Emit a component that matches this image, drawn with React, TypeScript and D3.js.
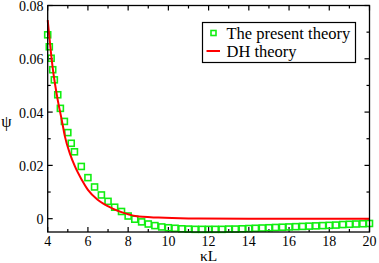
import { useMemo } from "react";
import * as d3 from "d3";

// The present theory (squares)
const presentX = [
  4.0, 4.08, 4.17, 4.25, 4.33, 4.5, 4.63, 4.83, 5.0, 5.17, 5.33, 5.67, 6.0, 6.33, 6.67, 7.0, 7.33, 7.67, 8.0,
  8.33, 8.67, 9.0, 9.33, 9.67, 10.0, 10.33, 10.67, 11.0, 11.33, 11.67, 12.0, 12.33, 12.67, 13.0, 13.33, 13.67,
  14.0, 14.33, 14.67, 15.0, 15.33, 15.67, 16.0, 16.33, 16.67, 17.0, 17.33, 17.67, 18.0, 18.33, 18.67, 19.0,
  19.33, 19.67, 20.0,
];
const presentPsi = [
  0.0690, 0.0645, 0.0602, 0.0559, 0.0521, 0.0465, 0.0414, 0.0365, 0.0323, 0.0283, 0.0251, 0.0196, 0.0154,
  0.0119, 0.0089, 0.0065, 0.0043, 0.0027, 0.0010, -0.0002, -0.0012, -0.0020, -0.0026, -0.0031, -0.0034,
  -0.0036, -0.0038, -0.0039, -0.0040, -0.0040, -0.0040, -0.0040, -0.0040, -0.0039, -0.0039, -0.0038,
  -0.0037, -0.0036, -0.0035, -0.0034, -0.0033, -0.0032, -0.0031, -0.0030, -0.0029, -0.0028, -0.0027,
  -0.0026, -0.0025, -0.0024, -0.0022, -0.0021, -0.0020, -0.0019, -0.0018,
];

// DH theory (line)
const dhX = [4.0, 4.25, 4.5, 4.7, 4.86, 5.1, 5.36, 5.7, 6.0, 6.5, 7.2, 7.85, 8.35, 9.5, 11.0, 14.0, 17.0, 20.0];
const dhPsi = [
  0.0745, 0.0565, 0.0445, 0.037, 0.0307, 0.0245, 0.0195, 0.0145, 0.0108, 0.007, 0.0039, 0.002, 0.001, 0.0004,
  0.0001, 0.0, 0.0, 0.0,
];

const xTicks = [4, 6, 8, 10, 12, 14, 16, 18, 20];
const yTicks = [0, 0.02, 0.04, 0.06, 0.08];
const xMinor = [5, 7, 9, 11, 13, 15, 17, 19];
const yMinor = [0.01, 0.03, 0.05, 0.07];

const legendLabels = ["The present theory", "DH theory"];

const FONT = "'Liberation Serif', 'Times New Roman', serif";
const GREEN = "#11ee11";
const RED = "#ff0000";

export default function App() {
  const W = 379;
  const H = 263;
  const left = 47.7;
  const right = 369.5;
  const top = 5.5;
  const bottom = 232;

  const x = useMemo(() => d3.scaleLinear().domain([4, 20]).range([left, right]), []);
  const y = useMemo(() => d3.scaleLinear().domain([-0.005, 0.08]).range([bottom, top]), []);

  const present = presentX.map((v, i) => [v, presentPsi[i]] as [number, number]);
  const dh = dhX.map((v, i) => [v, dhPsi[i]] as [number, number]);

  const line = d3
    .line<[number, number]>()
    .x((d) => x(d[0]))
    .y((d) => y(d[1]))
    .curve(d3.curveMonotoneX);

  const fmtY = (v: number) => (v === 0 ? "0" : d3.format(".2f")(v));
  const major = 5;
  const minor = 3;
  const sq = 6;

  return (
    <svg width={W} height={H} style={{ position: "absolute", left: 0, top: 0, background: "#fff" }}>
      <g fill="none" stroke="#000" strokeWidth={1.2}>
        {xTicks.map((t) => (
          <g key={"xt" + t}>
            <line x1={x(t)} x2={x(t)} y1={bottom} y2={bottom - major} />
            <line x1={x(t)} x2={x(t)} y1={top} y2={top + major} />
          </g>
        ))}
        {xMinor.map((t) => (
          <g key={"xm" + t}>
            <line x1={x(t)} x2={x(t)} y1={bottom} y2={bottom - minor} />
            <line x1={x(t)} x2={x(t)} y1={top} y2={top + minor} />
          </g>
        ))}
        {yTicks.map((t) => (
          <g key={"yt" + t}>
            <line x1={left} x2={left + major} y1={y(t)} y2={y(t)} />
            <line x1={right} x2={right - major} y1={y(t)} y2={y(t)} />
          </g>
        ))}
        {yMinor.map((t) => (
          <g key={"ym" + t}>
            <line x1={left} x2={left + minor} y1={y(t)} y2={y(t)} />
            <line x1={right} x2={right - minor} y1={y(t)} y2={y(t)} />
          </g>
        ))}
      </g>

      <g fill="none" stroke={GREEN} strokeWidth={1.6}>
        {present.map((d, i) => (
          <rect key={i} x={x(d[0]) - sq / 2} y={y(d[1]) - sq / 2} width={sq} height={sq} />
        ))}
      </g>
      <path d={line(dh) ?? ""} fill="none" stroke={RED} strokeWidth={2} />

      <rect x={left} y={top} width={right - left} height={bottom - top} fill="none" stroke="#000" strokeWidth={1.3} />

      <g fontFamily={FONT} fontSize={14} fill="#000">
        {xTicks.map((t) => (
          <text key={"xl" + t} x={x(t)} y={245.5} textAnchor="middle">
            {t}
          </text>
        ))}
        {yTicks.map((t) => (
          <text key={"yl" + t} x={43.5} y={y(t) + 5.5} textAnchor="end">
            {fmtY(t)}
          </text>
        ))}
      </g>
      <text x={(left + right) / 2} y={260.5} textAnchor="middle" fontFamily={FONT} fontSize={15.5}>
        κL
      </text>
      <text x={6.5} y={127} textAnchor="middle" fontFamily={FONT} fontSize={16.5}>
        ψ
      </text>

      <g>
        <rect x={202.5} y={22.5} width={153} height={40} fill="#fff" stroke="#000" strokeWidth={1.2} />
        <rect x={213.5 - 2.5} y={33 - 2.5} width={5} height={5} fill="none" stroke={GREEN} strokeWidth={1.6} />
        <line x1={206.5} x2={220} y1={51} y2={51} stroke={RED} strokeWidth={2} />
        <g fontFamily={FONT} fontSize={16.5} fill="#000">
          <text x={226.5} y={38.5}>
            {legendLabels[0]}
          </text>
          <text x={226.5} y={56.5}>
            {legendLabels[1]}
          </text>
        </g>
      </g>
    </svg>
  );
}
